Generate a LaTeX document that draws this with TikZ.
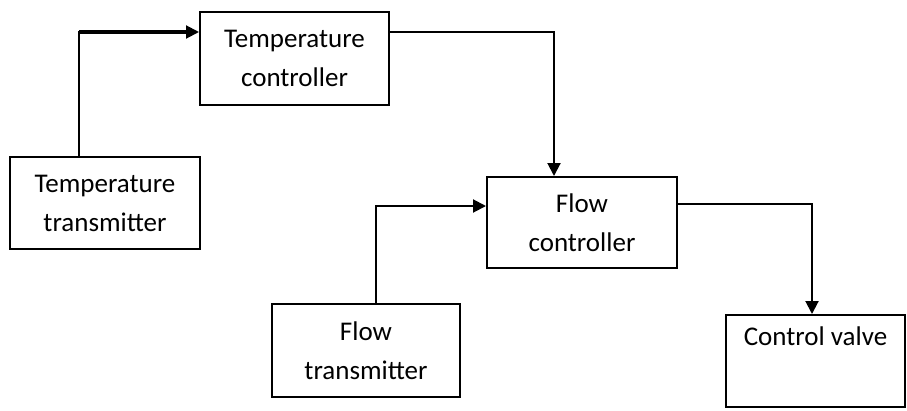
\documentclass[tikz,border=0pt]{standalone}
\usepackage{fontspec}
\setmainfont{Carlito}
\usetikzlibrary{arrows.meta}
\tikzset{
  blockbox/.style={draw=black, line width=2pt, minimum width=#1, inner sep=0pt, align=center,
    font=\fontsize{27}{39}\selectfont},
  conn/.style={line width=2pt, -{Triangle[length=13pt,width=13pt]}},
}
\begin{document}
\begin{tikzpicture}[x=1pt,y=-1pt]
\useasboundingbox (0,0) rectangle (907,410);
\node[blockbox=190pt, minimum height=92pt] (tt) at (105,203) {Temperature\\transmitter};
\node[blockbox=189pt, minimum height=93pt] (tc) at (294.5,58.5) {Temperature\\controller};
\node[blockbox=190pt, minimum height=91pt] (fc) at (582,222.5) {Flow\\controller};
\node[blockbox=188pt, minimum height=93pt] (ft) at (366,350.5) {Flow\\transmitter};
\node[blockbox=179pt, minimum height=92pt] (cv) at (815.5,361) {Control valve\\\strut};
\draw[conn] ([xshift=70pt]tt.north west) |- ([yshift=-21pt]tc.north west);
\draw[line width=3.5pt] ([xshift=70pt,yshift=-21pt]tc.north west -| tt.north west) -- ([xshift=-12pt,yshift=-21pt]tc.north west);
\draw[conn] ([yshift=-21pt]tc.north east) -| ([xshift=68pt]fc.north west);
\draw[conn] ([xshift=105pt]ft.north west) |- ([yshift=-30pt]fc.north west);
\draw[conn] ([yshift=-28pt]fc.north east) -| ([xshift=87pt]cv.north west);
\end{tikzpicture}
\end{document}
